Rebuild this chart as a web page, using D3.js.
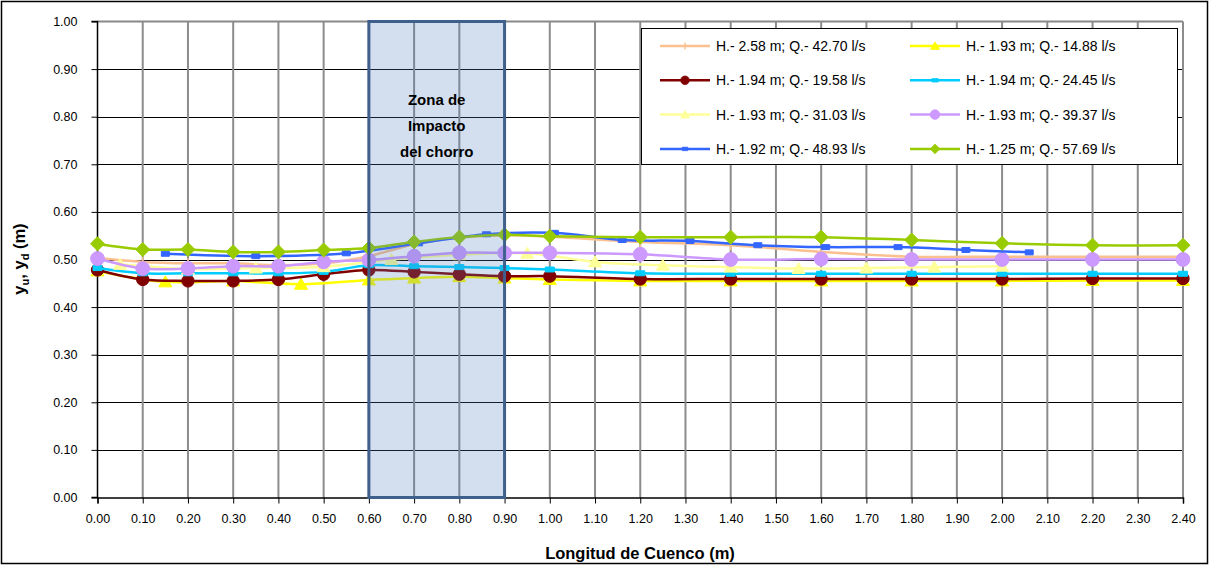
<!DOCTYPE html>
<html><head><meta charset="utf-8">
<script src="https://cdn.jsdelivr.net/npm/d3@7"></script>
<style>body{margin:0;background:#fff;}svg{display:block;font-family:"Liberation Sans",Arial,sans-serif;}</style>
</head><body>
<script>
// ---- data ----
const xTicks = d3.range(0, 25).map(i => +(i * 0.1).toFixed(2));
const yTicks = d3.range(0, 11).map(i => +(i * 0.1).toFixed(2));
const xStd = [0, 0.1, 0.2, 0.3, 0.4, 0.5, 0.6, 0.7, 0.8, 0.9, 1.0, 1.2, 1.4, 1.6, 1.8, 2.0, 2.2, 2.4];

const peachX = xStd;
const peachY = [0.503, 0.495, 0.492, 0.492, 0.488, 0.492, 0.507, 0.532, 0.546, 0.551, 0.548, 0.537, 0.530, 0.516, 0.506, 0.506, 0.506, 0.506];

const yellowX = [0, 0.15, 0.3, 0.45, 0.6, 0.7, 0.8, 0.9, 1.0, 1.2, 1.4, 1.6, 1.8, 2.0, 2.2, 2.4];
const yellowY = [0.476, 0.453, 0.455, 0.448, 0.457, 0.461, 0.464, 0.461, 0.458, 0.455, 0.455, 0.455, 0.455, 0.455, 0.456, 0.456];

const darkRedX = xStd;
const darkRedY = [0.478, 0.458, 0.455, 0.455, 0.458, 0.469, 0.478, 0.474, 0.469, 0.465, 0.465, 0.459, 0.459, 0.459, 0.459, 0.459, 0.46, 0.46];

const cyanX = xStd;
const cyanY = [0.482, 0.471, 0.471, 0.471, 0.471, 0.474, 0.488, 0.486, 0.484, 0.482, 0.479, 0.471, 0.470, 0.470, 0.470, 0.470, 0.470, 0.470];

const paleX = [0.05, 0.2, 0.35, 0.5, 0.65, 0.8, 0.95, 1.1, 1.25, 1.4, 1.55, 1.7, 1.85, 2.0];
const paleY = [0.49, 0.48, 0.482, 0.485, 0.5, 0.51, 0.513, 0.495, 0.488, 0.484, 0.481, 0.482, 0.484, 0.486];

const purpleX = xStd;
const purpleY = [0.502, 0.481, 0.481, 0.486, 0.486, 0.495, 0.499, 0.507, 0.514, 0.514, 0.514, 0.511, 0.500, 0.501, 0.500, 0.500, 0.500, 0.500];

const blueX = [0.15, 0.35, 0.55, 0.71, 0.86, 1.01, 1.16, 1.31, 1.46, 1.61, 1.77, 1.92, 2.06];
const blueY = [0.512, 0.507, 0.513, 0.534, 0.553, 0.556, 0.541, 0.539, 0.530, 0.526, 0.526, 0.520, 0.515];

const greenX = xStd;
const greenY = [0.533, 0.521, 0.521, 0.516, 0.516, 0.52, 0.524, 0.537, 0.547, 0.552, 0.549, 0.547, 0.547, 0.547, 0.541, 0.534, 0.530, 0.530];

const seriesNames = [
  "H.- 2.58 m; Q.- 42.70 l/s", "H.- 1.93 m; Q.- 14.88 l/s",
  "H.- 1.94 m; Q.- 19.58 l/s", "H.- 1.94 m; Q.- 24.45 l/s",
  "H.- 1.93 m; Q.- 31.03 l/s", "H.- 1.93 m; Q.- 39.37 l/s",
  "H.- 1.92 m; Q.- 48.93 l/s", "H.- 1.25 m; Q.- 57.69 l/s"];
const seriesColors = ["#fac090", "#ffff00", "#800000", "#00ccff", "#ffff99", "#cc99ff", "#3366ff", "#99cc00"];
const seriesMarkers = ["plus", "triangle", "circle", "dash", "triangle", "bigcircle", "square", "diamond"];
const seriesX = [peachX, yellowX, darkRedX, cyanX, paleX, purpleX, blueX, greenX];
const seriesY = [peachY, yellowY, darkRedY, cyanY, paleY, purpleY, blueY, greenY];

const zone = [0.6, 0.9];
const zoneLabel = ["Zona de", "Impacto", "del chorro"];

// ---- layout ----
const W = 1210, H = 566;
const m = {left: 97.5, right: 1183, top: 21.5, bottom: 497.5};
const svg = d3.select("body").append("svg").attr("width", W).attr("height", H);
svg.append("rect").attr("x", 1.5).attr("y", 1.5).attr("width", 1206).attr("height", 562).attr("fill", "none").attr("stroke", "#000").attr("stroke-width", 1.5);

const x = d3.scaleLinear().domain([0, 2.4]).range([m.left, m.right]);
const y = d3.scaleLinear().domain([0, 1]).range([m.bottom, m.top]);

// horizontal grid (black thin)
svg.append("g").selectAll("line").data(yTicks.filter(v => v > 0 && v < 1)).join("line")
  .attr("x1", m.left).attr("x2", m.right).attr("y1", d => Math.round(y(d)) + 0.5).attr("y2", d => Math.round(y(d)) + 0.5)
  .attr("stroke", "#000").attr("stroke-width", 1);
// top border gray
svg.append("line").attr("x1", m.left).attr("x2", m.right).attr("y1", y(1)).attr("y2", y(1)).attr("stroke", "#888").attr("stroke-width", 2);
// vertical grid gray
svg.append("g").selectAll("line").data(xTicks.filter(v => v > 0)).join("line")
  .attr("x1", d => x(d)).attr("x2", d => x(d)).attr("y1", y(0)).attr("y2", y(1))
  .attr("stroke", "#8c8c8c").attr("stroke-width", 2);

// axes
const xAxis = d3.axisBottom(x).tickValues(xTicks).tickFormat(d3.format(".2f")).tickSize(6).tickPadding(11);
const yAxis = d3.axisLeft(y).tickValues(yTicks).tickFormat(d3.format(".2f")).tickSize(6).tickPadding(14);
const gx = svg.append("g").attr("transform", `translate(0,${m.bottom})`).call(xAxis);
const gy = svg.append("g").attr("transform", `translate(${m.left},0)`).call(yAxis);
[gx, gy].forEach(g => {
  g.select(".domain").attr("stroke", "#000").attr("stroke-width", 1.5);
  g.selectAll(".tick line").attr("stroke", "#000");
  g.selectAll(".tick text").attr("font-size", 12.5).attr("fill", "#000").attr("font-family", "Liberation Sans, Arial, sans-serif");
});
gy.select(".domain").attr("d", `M-6,${m.top}H0V${m.bottom}H-6`);

// series
const line = d3.line().x(d => x(d[0])).y(d => y(d[1])).curve(d3.curveCatmullRom.alpha(0.5));
const markerPath = (type) => {
  switch (type) {
    case "triangle": return "M0,-6L6.5,5L-6.5,5Z";
    case "diamond": return "M0,-7L7,0L0,7L-7,0Z";
    case "square": return "M-4,-2.5H4V2.5H-4Z";
    case "dash": return "M-4.5,-2.5H4.5V2.5H-4.5Z";
    case "plus": return "M0,-5V5M-5,0H5";
    case "circle": return d3.symbol(d3.symbolCircle, 120)();
    case "bigcircle": return d3.symbol(d3.symbolCircle, 150)();
  }
};
seriesNames.forEach((name, i) => {
  const pts = seriesX[i].map((v, j) => [v, seriesY[i][j]]);
  const g = svg.append("g");
  g.append("path").attr("d", line(pts)).attr("fill", "none").attr("stroke", seriesColors[i]).attr("stroke-width", 2.5);
  g.selectAll("path.mk").data(pts).join("path").attr("class", "mk")
    .attr("transform", d => `translate(${x(d[0])},${y(d[1])})`)
    .attr("d", markerPath(seriesMarkers[i]))
    .attr("fill", seriesMarkers[i] === "plus" ? "none" : seriesColors[i])
    .attr("stroke", seriesColors[i]).attr("stroke-width", seriesMarkers[i] === "plus" ? 1.5 : 1);
});

// zone overlay
svg.append("rect").attr("x", x(zone[0])).attr("y", y(1)).attr("width", x(zone[1]) - x(zone[0])).attr("height", y(0) - y(1))
  .attr("fill", "#4f81bd").attr("fill-opacity", 0.25).attr("stroke", "#3f5f8c").attr("stroke-width", 3);
svg.append("g").selectAll("text").data(zoneLabel).join("text")
  .attr("x", x((zone[0] + zone[1]) / 2)).attr("y", (d, i) => 105 + i * 26)
  .attr("text-anchor", "middle").attr("font-weight", "bold").attr("font-size", 15).text(d => d);

// legend
const lg = svg.append("g");
lg.append("rect").attr("x", 641.5).attr("y", 28.5).attr("width", 536).attr("height", 136).attr("fill", "#fff").attr("stroke", "#000").attr("stroke-width", 1);
seriesNames.forEach((name, i) => {
  const col = i % 2, row = Math.floor(i / 2);
  const lx = col === 0 ? 660 : 910, ly = 46 + row * 34.3;
  lg.append("line").attr("x1", lx).attr("x2", lx + 50).attr("y1", ly).attr("y2", ly).attr("stroke", seriesColors[i]).attr("stroke-width", 2.5);
  const t = seriesMarkers[i];
  lg.append("path").attr("transform", `translate(${lx + 25},${ly}) scale(0.7)`).attr("d", markerPath(t))
    .attr("fill", t === "plus" ? "none" : seriesColors[i]).attr("stroke", seriesColors[i]).attr("stroke-width", t === "plus" ? 2 : 1);
  lg.append("text").attr("x", lx + 56).attr("y", ly + 5).attr("font-size", 14).text(name);
});

// axis titles
svg.append("text").attr("x", 640).attr("y", 559).attr("text-anchor", "middle").attr("font-weight", "bold").attr("font-size", 16.5).text("Longitud de Cuenco (m)");
const yt = svg.append("text").attr("transform", "translate(25,259) rotate(-90)").attr("text-anchor", "middle").attr("font-weight", "bold").attr("font-size", 16.5);
yt.append("tspan").text("y");
yt.append("tspan").attr("font-size", 11).attr("dy", 4).text("u");
yt.append("tspan").attr("dy", -4).text(", y");
yt.append("tspan").attr("font-size", 11).attr("dy", 4).text("d");
yt.append("tspan").attr("dy", -4).text(" (m)");
</script>
</body></html>
